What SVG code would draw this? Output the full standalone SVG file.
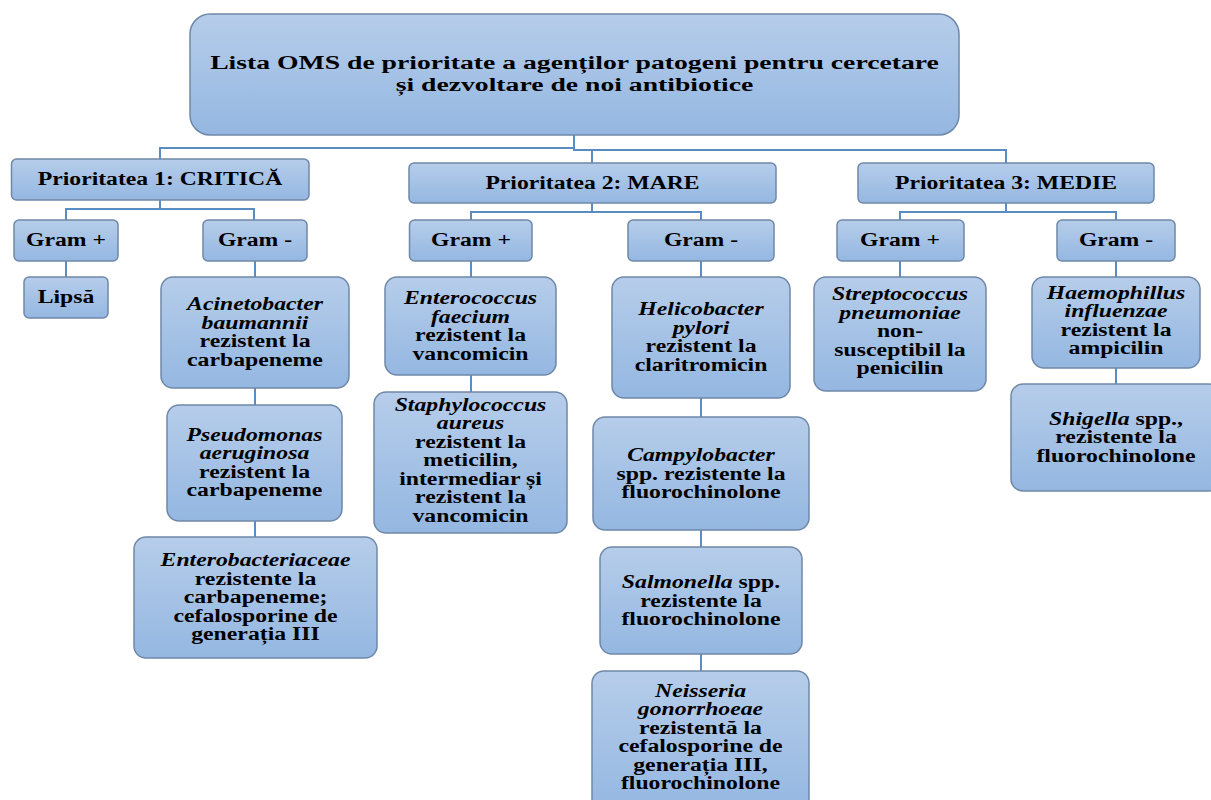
<svg xmlns="http://www.w3.org/2000/svg" width="1211" height="800" viewBox="0 0 1211 800">
<defs>
<linearGradient id="g" x1="0" y1="0" x2="0" y2="1">
<stop offset="0" stop-color="#b6cdea"/>
<stop offset="1" stop-color="#94b7e1"/>
</linearGradient>
<style>
.box{fill:url(#g);stroke:#6f88a8;stroke-width:1.5}
.con path{fill:none;stroke:#5a8cc4;stroke-width:2}
.t{font-family:"Liberation Serif","Times New Roman",serif;font-weight:bold;fill:#000;text-anchor:middle}
.b{font-size:18px}
.h{font-size:18.5px}
.ti{font-size:19.5px}
.i{font-style:italic}
</style>
</defs>
<rect width="1211" height="800" fill="#fff"/>
<g class="con" id="connectors">
<path d="M574 135V148H160V159"/>
<path d="M574 148V150H1006V163"/>
<path d="M592 150V163"/>
<path d="M160 200V209"/>
<path d="M66 220V209H254V220"/>
<path d="M592 203V212"/>
<path d="M471 220V212H701V220"/>
<path d="M1006 203V212"/>
<path d="M900 220V212H1116V220"/>
<path d="M66 261V277"/>
<path d="M255 261V277M255 388V405M255 521V537"/>
<path d="M471 261V277M471 375V392"/>
<path d="M701 261V277M701 398V417M701 530V547M701 654V671"/>
<path d="M900 261V277"/>
<path d="M1116 261V277M1116 368V384"/>
</g>
<g id="title">
<rect class="box" x="190" y="14" width="769" height="121" rx="20"/>
<text class="t ti" transform="translate(574.5,0) scale(1.42,1)"><tspan x="0" y="69">Lista OMS de prioritate a agenților patogeni pentru cercetare</tspan><tspan x="0" y="91.5">și dezvoltare de noi antibiotice</tspan></text>
</g>
<g id="p1">
<rect class="box" x="11.5" y="159" width="297.5" height="41" rx="5"/>
<text class="t h" transform="translate(160,0) scale(1.28,1)"><tspan x="0" y="185">Prioritatea 1: CRITICĂ</tspan></text>
</g>
<g id="p2">
<rect class="box" x="409" y="163" width="367" height="40" rx="5"/>
<text class="t h" transform="translate(592.5,0) scale(1.28,1)"><tspan x="0" y="189">Prioritatea 2: MARE</tspan></text>
</g>
<g id="p3">
<rect class="box" x="858" y="163" width="296" height="40" rx="5"/>
<text class="t h" transform="translate(1006,0) scale(1.28,1)"><tspan x="0" y="189">Prioritatea 3: MEDIE</tspan></text>
</g>
<g id="p1gp">
<rect class="box" x="14" y="220" width="104" height="41" rx="5"/>
<text class="t h" transform="translate(66,0) scale(1.28,1)"><tspan x="0" y="246">Gram +</tspan></text>
</g>
<g id="p1gm">
<rect class="box" x="203" y="220" width="104" height="41" rx="5"/>
<text class="t h" transform="translate(255,0) scale(1.28,1)"><tspan x="0" y="246">Gram -</tspan></text>
</g>
<g id="p2gp">
<rect class="box" x="409.5" y="220" width="122.5" height="41" rx="5"/>
<text class="t h" transform="translate(471,0) scale(1.28,1)"><tspan x="0" y="246">Gram +</tspan></text>
</g>
<g id="p2gm">
<rect class="box" x="628" y="220" width="146" height="41" rx="5"/>
<text class="t h" transform="translate(701,0) scale(1.28,1)"><tspan x="0" y="246">Gram -</tspan></text>
</g>
<g id="p3gp">
<rect class="box" x="837" y="220" width="127" height="41" rx="5"/>
<text class="t h" transform="translate(900,0) scale(1.28,1)"><tspan x="0" y="246">Gram +</tspan></text>
</g>
<g id="p3gm">
<rect class="box" x="1057" y="220" width="118" height="41" rx="5"/>
<text class="t h" transform="translate(1116,0) scale(1.28,1)"><tspan x="0" y="246">Gram -</tspan></text>
</g>
<g id="lipsa">
<rect class="box" x="24" y="277" width="84" height="41" rx="5"/>
<text class="t h" transform="translate(66,0) scale(1.28,1)"><tspan x="0" y="303">Lipsă</tspan></text>
</g>
<g id="acinetobacter">
<rect class="box" x="161" y="277" width="188" height="111" rx="12"/>
<text class="t b" transform="translate(255,0) scale(1.32,1)"><tspan x="0" y="310.5" class="i">Acinetobacter</tspan><tspan x="0" y="329" class="i">baumannii</tspan><tspan x="0" y="347.5">rezistent la</tspan><tspan x="0" y="366">carbapeneme</tspan></text>
</g>
<g id="pseudomonas">
<rect class="box" x="167" y="405" width="175" height="116" rx="12"/>
<text class="t b" transform="translate(254.5,0) scale(1.32,1)"><tspan x="0" y="441" class="i">Pseudomonas</tspan><tspan x="0" y="459.5" class="i">aeruginosa</tspan><tspan x="0" y="478">rezistent la</tspan><tspan x="0" y="496.5">carbapeneme</tspan></text>
</g>
<g id="enterobacteriaceae">
<rect class="box" x="134" y="537" width="243" height="121" rx="12"/>
<text class="t b" transform="translate(255.5,0) scale(1.32,1)"><tspan x="0" y="566.5" class="i">Enterobacteriaceae</tspan><tspan x="0" y="585">rezistente la</tspan><tspan x="0" y="603.5">carbapeneme;</tspan><tspan x="0" y="622">cefalosporine de</tspan><tspan x="0" y="640.5">generația III</tspan></text>
</g>
<g id="enterococcus">
<rect class="box" x="385" y="277" width="171" height="98" rx="12"/>
<text class="t b" transform="translate(470.5,0) scale(1.32,1)"><tspan x="0" y="304.5" class="i">Enterococcus</tspan><tspan x="0" y="323" class="i">faecium</tspan><tspan x="0" y="341.5">rezistent la</tspan><tspan x="0" y="360">vancomicin</tspan></text>
</g>
<g id="staphylococcus">
<rect class="box" x="374" y="392" width="193" height="141" rx="12"/>
<text class="t b" transform="translate(470.5,0) scale(1.32,1)"><tspan x="0" y="411" class="i">Staphylococcus</tspan><tspan x="0" y="429.5" class="i">aureus</tspan><tspan x="0" y="448">rezistent la</tspan><tspan x="0" y="466.5">meticilin,</tspan><tspan x="0" y="485">intermediar și</tspan><tspan x="0" y="503.5">rezistent la</tspan><tspan x="0" y="522">vancomicin</tspan></text>
</g>
<g id="helicobacter">
<rect class="box" x="612" y="277" width="178" height="121" rx="12"/>
<text class="t b" transform="translate(701,0) scale(1.32,1)"><tspan x="0" y="315.5" class="i">Helicobacter</tspan><tspan x="0" y="334" class="i">pylori</tspan><tspan x="0" y="352.5">rezistent la</tspan><tspan x="0" y="371">claritromicin</tspan></text>
</g>
<g id="campylobacter">
<rect class="box" x="593" y="417" width="216" height="113" rx="12"/>
<text class="t b" transform="translate(701,0) scale(1.32,1)"><tspan x="0" y="461.5" class="i">Campylobacter</tspan><tspan x="0" y="480">spp. rezistente la</tspan><tspan x="0" y="498.5">fluorochinolone</tspan></text>
</g>
<g id="salmonella">
<rect class="box" x="600" y="547" width="202" height="107" rx="12"/>
<text class="t b" transform="translate(701,0) scale(1.32,1)"><tspan x="0" y="588.5"><tspan class="i">Salmonella</tspan> spp.</tspan><tspan x="0" y="607">rezistente la</tspan><tspan x="0" y="625.5">fluorochinolone</tspan></text>
</g>
<g id="neisseria">
<rect class="box" x="592" y="671" width="217" height="140" rx="12"/>
<text class="t b" transform="translate(700.5,0) scale(1.32,1)"><tspan x="0" y="697" class="i">Neisseria</tspan><tspan x="0" y="715.5" class="i">gonorrhoeae</tspan><tspan x="0" y="734">rezistentă la</tspan><tspan x="0" y="752.5">cefalosporine de</tspan><tspan x="0" y="771">generația III,</tspan><tspan x="0" y="789.5">fluorochinolone</tspan></text>
</g>
<g id="streptococcus">
<rect class="box" x="814" y="277" width="172" height="114" rx="12"/>
<text class="t b" transform="translate(900,0) scale(1.32,1)"><tspan x="0" y="300.5" class="i">Streptococcus</tspan><tspan x="0" y="319" class="i">pneumoniae</tspan><tspan x="0" y="337.5">non-</tspan><tspan x="0" y="356">susceptibil la</tspan><tspan x="0" y="374.5">penicilin</tspan></text>
</g>
<g id="haemophillus">
<rect class="box" x="1032" y="277" width="168" height="91" rx="12"/>
<text class="t b" transform="translate(1116,0) scale(1.32,1)"><tspan x="0" y="299" class="i">Haemophillus</tspan><tspan x="0" y="317.5" class="i">influenzae</tspan><tspan x="0" y="336">rezistent la</tspan><tspan x="0" y="354.5">ampicilin</tspan></text>
</g>
<g id="shigella">
<rect class="box" x="1011" y="384" width="210" height="107" rx="12"/>
<text class="t b" transform="translate(1116,0) scale(1.32,1)"><tspan x="0" y="425"><tspan class="i">Shigella</tspan> spp.,</tspan><tspan x="0" y="443.5">rezistente la</tspan><tspan x="0" y="462">fluorochinolone</tspan></text>
</g>
</svg>
